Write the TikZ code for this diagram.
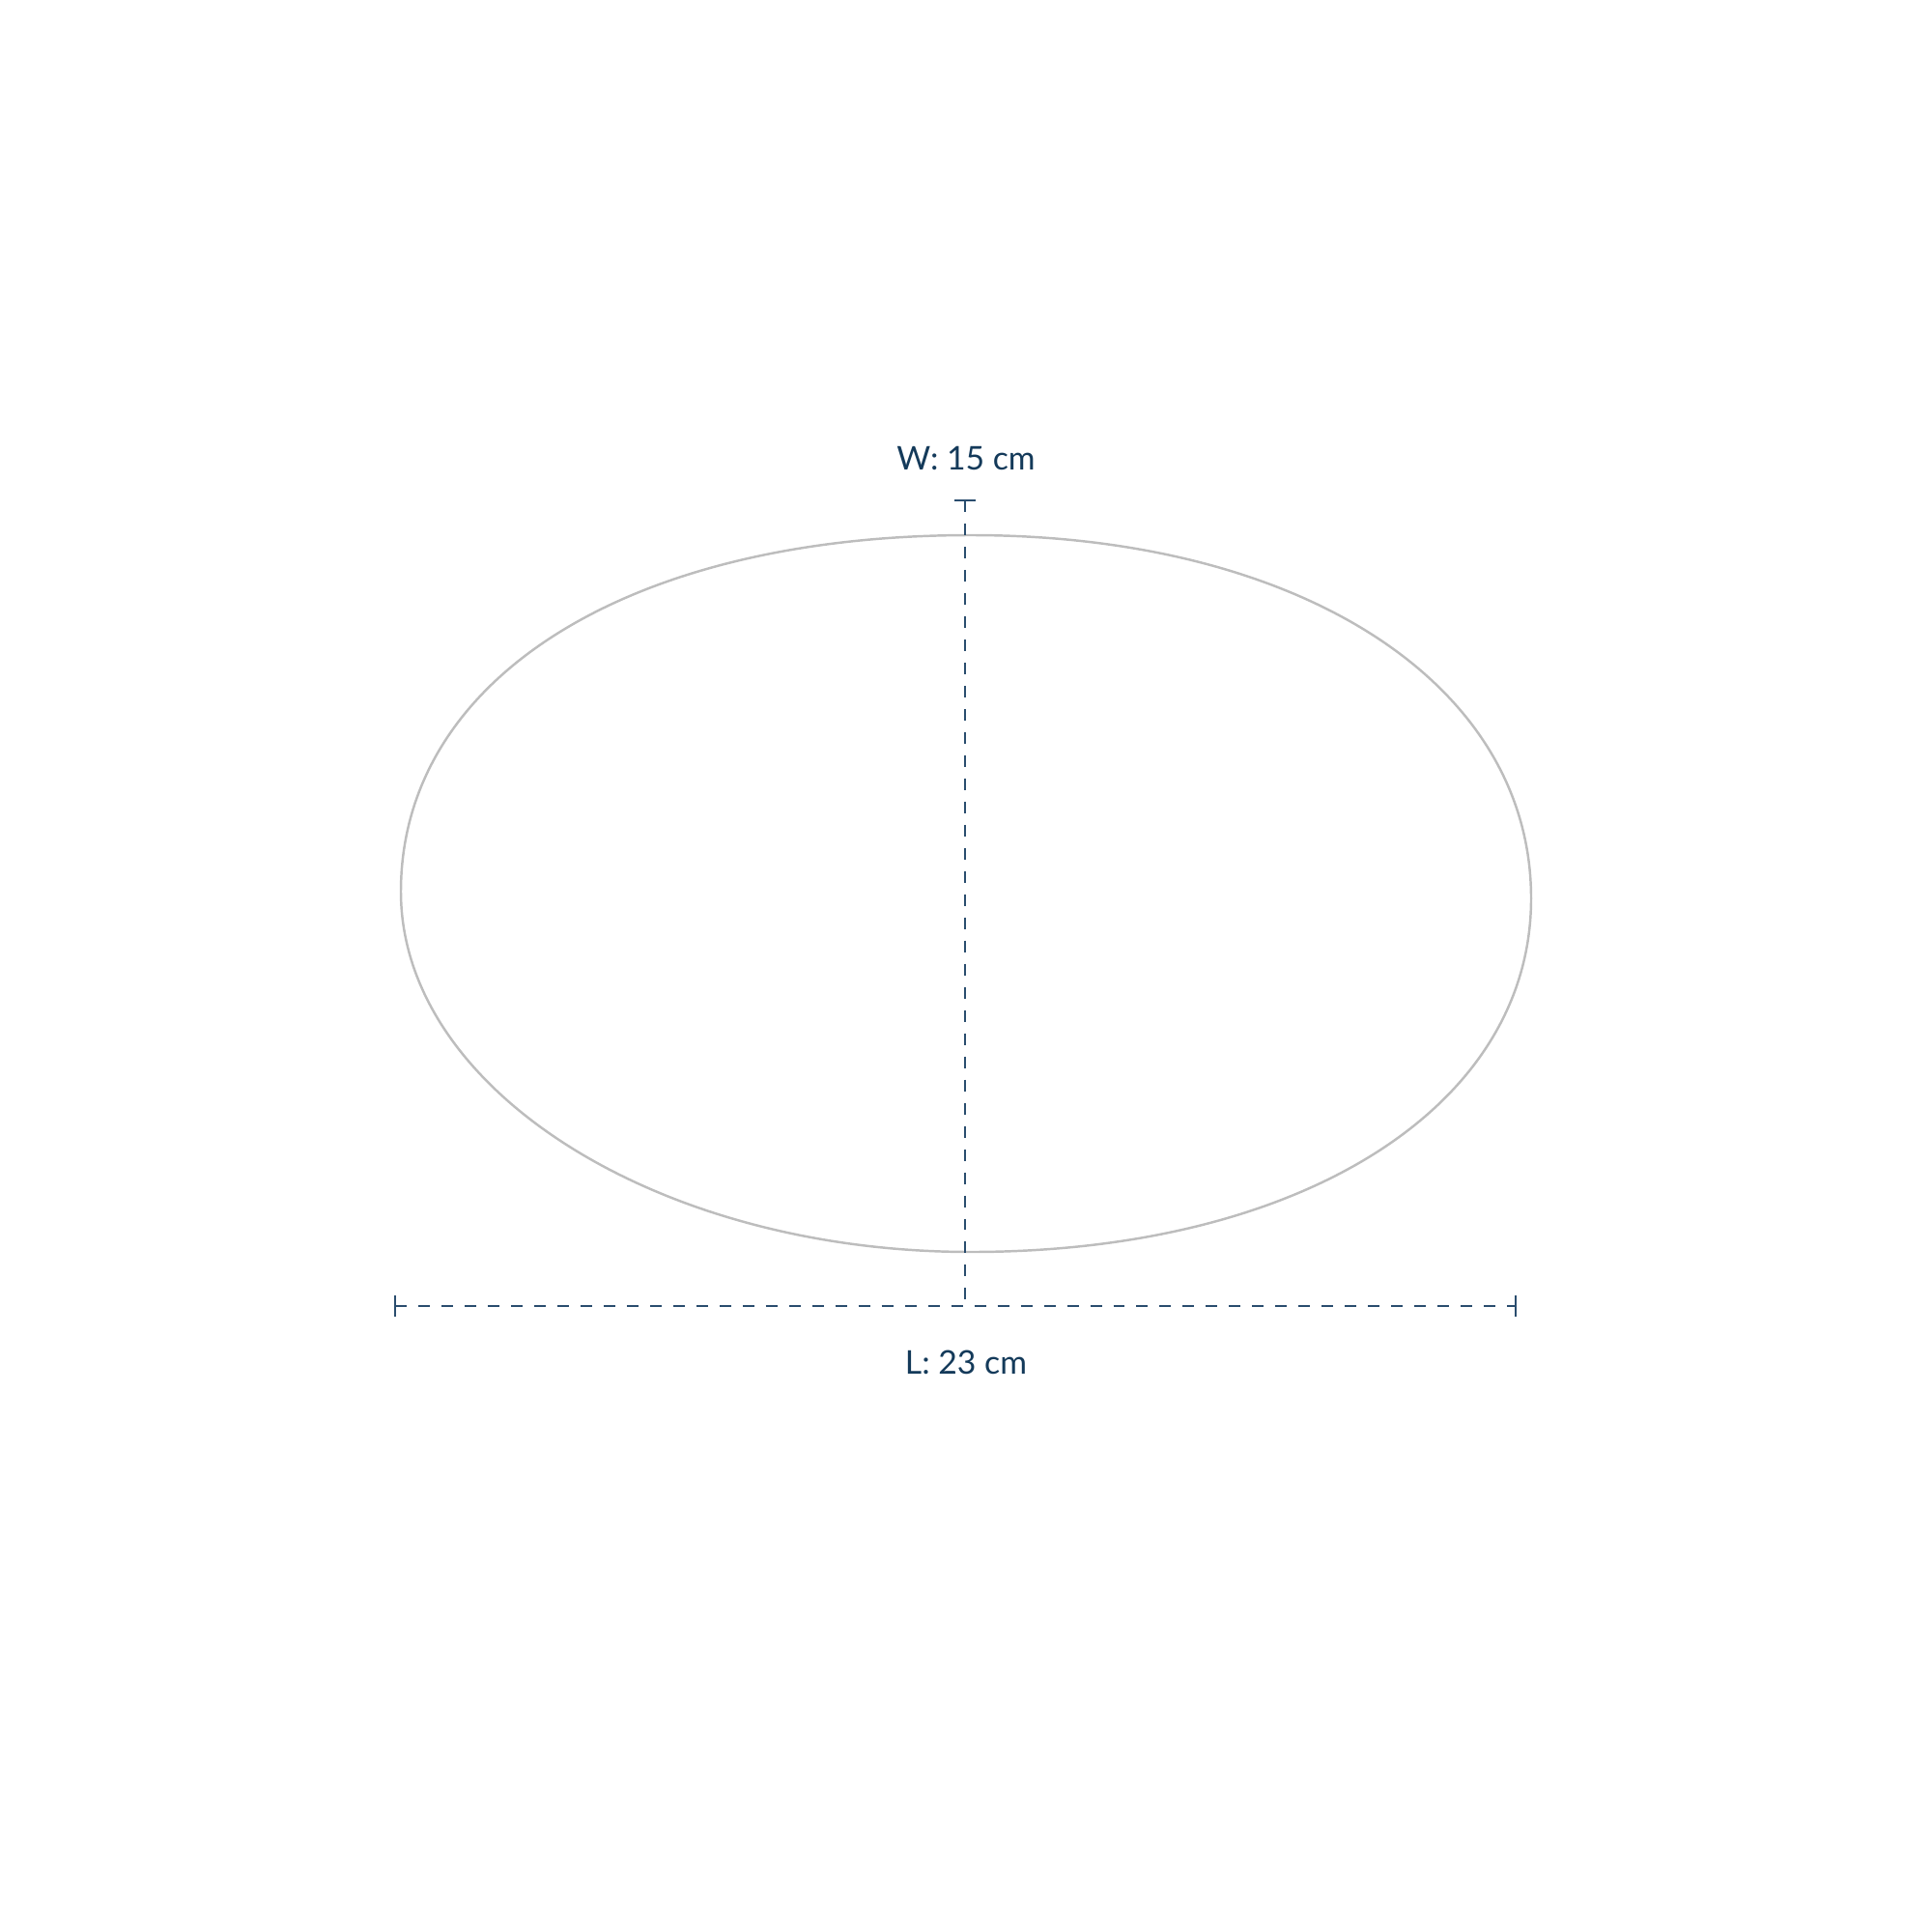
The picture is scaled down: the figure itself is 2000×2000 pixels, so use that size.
\documentclass[tikz,border=0pt]{standalone}
\usepackage{fontspec}
\setmainfont{Lato}
\definecolor{outlinegray}{HTML}{BDBDBD}
\definecolor{dimnavy}{HTML}{2A4D6E}
\definecolor{textnavy}{HTML}{143A5A}
\tikzset{
  outline/.style={draw=outlinegray, line width=0.7pt},
  dimline/.style={draw=dimnavy, line width=0.55pt, dash pattern=on 3.41pt off 3.41pt},
  dimtick/.style={draw=dimnavy, line width=0.55pt},
  dimlabel/.style={text=textnavy, font=\fontsize{9.6pt}{11pt}\selectfont, anchor=base, inner sep=0pt}
}
\begin{document}
\begin{tikzpicture}[x=0.01cm, y=-0.01cm]
  \useasboundingbox (0,0) rectangle (2000,2000);
  % outline of the shape
  \coordinate (L) at (415,923);
  \coordinate (T) at (1005,554);
  \coordinate (R) at (1585,930);
  \coordinate (B) at (1005,1296);
  \draw[outline] (L) .. controls (415,702) and (651,554) .. (T)
                     .. controls (1347,554) and (1585,708) .. (R)
                     .. controls (1585,1146) and (1347,1296) .. (B)
                     .. controls (681,1296) and (415,1128) .. (L) -- cycle;
  % dimension lines
  \coordinate (wtop) at (999,518);
  \coordinate (wbot) at (999,1352);
  \coordinate (lleft) at (409,1352);
  \coordinate (lright) at (1569,1352);
  \coordinate (wt1) at (988,518);
  \coordinate (wt2) at (1010,518);
  \coordinate (ll1) at (409,1341);
  \coordinate (ll2) at (409,1363);
  \coordinate (lr1) at (1569,1341);
  \coordinate (lr2) at (1569,1363);
  \draw[dimline] (wtop) -- (wbot);
  \draw[dimline] (lleft) -- (lright);
  \draw[dimtick] (wt1) -- (wt2);
  \draw[dimtick] (ll1) -- (ll2);
  \draw[dimtick] (lr1) -- (lr2);
  % labels
  \node[dimlabel] (wlabel) at (1000,486) {W: 15 cm};
  \node[dimlabel] (llabel) at (1000,1422) {L: 23 cm};
\end{tikzpicture}
\end{document}
